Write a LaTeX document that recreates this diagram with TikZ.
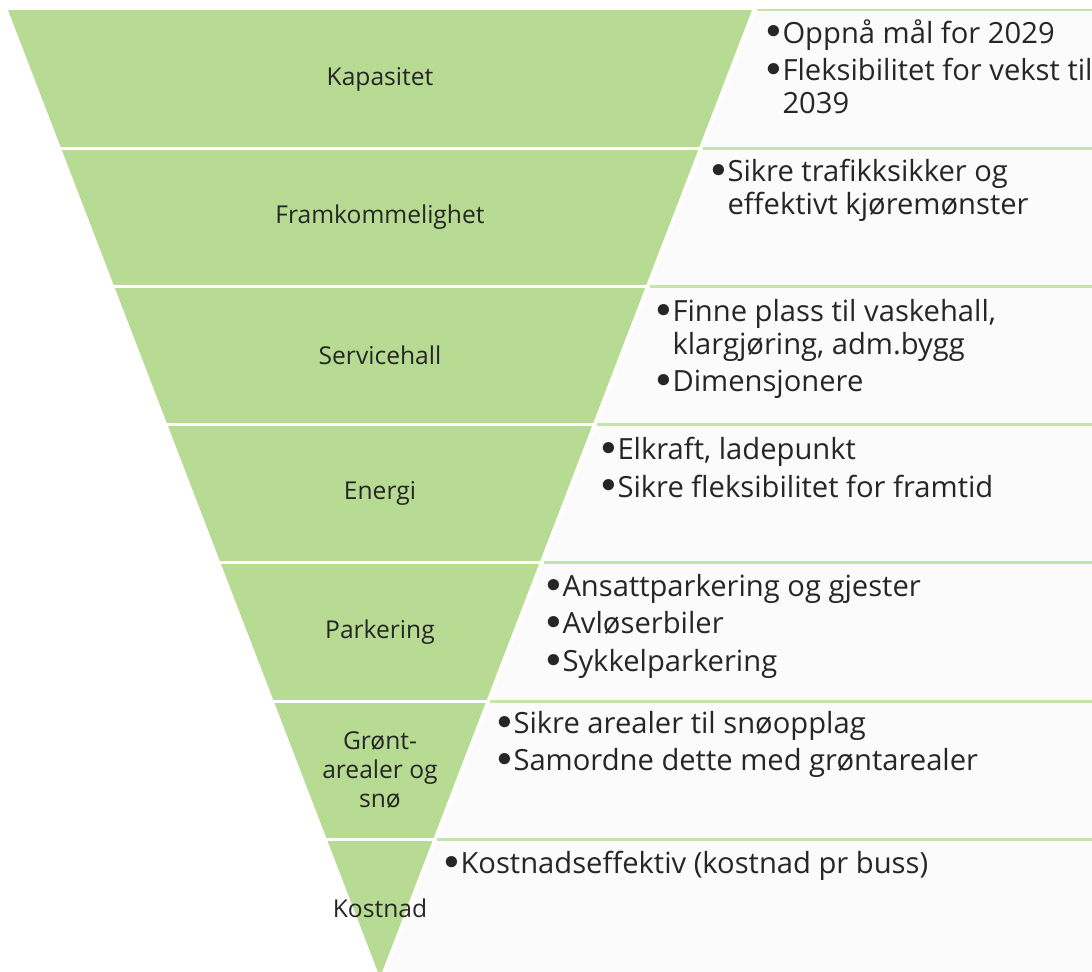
\documentclass[tikz,border=0pt]{standalone}
\usepackage{fontspec}
\setmainfont{Open Sans}
\newfontfamily\bulfont{DejaVu Sans}
\usetikzlibrary{calc}
\definecolor{pyrgreen}{RGB}{183,219,146}
\definecolor{boxfill}{RGB}{251,251,251}
\definecolor{boxline}{RGB}{197,228,170}
\tikzset{
    band/.style={fill=pyrgreen},
    sepline/.style={draw=white, line width=1.7pt},
    textbox/.style={fill=boxfill},
    topline/.style={draw=boxline, line width=1.7pt},
    level/.style={font=\fontsize{14}{16.5}\selectfont, align=center, text=black!85},
    items/.style={font=\fontsize{16.6}{18.7}\selectfont, anchor=north west, align=left,
        inner sep=0pt, text=black!85, execute at begin node=\strut}
}
\newcommand{\bul}{\raisebox{-1.6pt}{\bulfont\fontsize{22}{18.7}\selectfont•}\kern-1.5pt}
\newcommand{\gap}{\\[2.6pt]}

\begin{document}
\begin{tikzpicture}[x=0.02cm,y=-0.02cm]
\useasboundingbox (0,0) rectangle (1092,971);
\clip (0,0) rectangle (1092,971);

% Text boxes to the right
\foreach \i in {0,...,6}{
    \pgfmathsetmacro\ytop{10+138.2*\i}
    \pgfmathsetmacro\ybot{\ytop+138.2}
    \pgfmathsetmacro\xtop{380+0.3851*(977.4-\ytop)+4}
    \pgfmathsetmacro\xbot{380+0.3851*(977.4-\ybot)+4}
    \fill[textbox] (\xtop,\ytop) -- (1100,\ytop) -- (1100,\ybot) -- (\xbot,\ybot) -- cycle;
    \draw[topline] (\xtop,\ytop) -- (1100,\ytop);
}

% Pyramid
\fill[band] (8,10) -- (752,10) -- (380,977.4) -- cycle;
\foreach \i in {1,...,6}{
    \draw[sepline] (0,{10+138.2*\i}) -- ({380+0.3851*(977.4-10-138.2*\i)+2},{10+138.2*\i});
}

% Levels
\foreach \lbl [count=\i] in {Kapasitet, Framkommelighet, Servicehall, Energi,
    Parkering, {Grønt-\\arealer og\\snø}, Kostnad}{
    \node[level] (lvl\i) at (380,{79+138.2*(\i-1)}) {\lbl};
}

% Bullet points
\node[items] (txt1) at (762,19) {\bul Oppnå mål for 2029\gap
    \bul Fleksibilitet for vekst til\\\phantom{\bul}2039};
\node[items] (txt2) at (707,159) {\bul Sikre trafikksikker og\\\phantom{\bul}effektivt kjøremønster};
\node[items] (txt3) at (652,299) {\bul Finne plass til vaskehall,\\\phantom{\bul}klargjøring, adm.bygg\gap
    \bul Dimensjonere};
\node[items] (txt4) at (597,437) {\bul Elkraft, ladepunkt\gap
    \bul Sikre fleksibilitet for framtid};
\node[items] (txt5) at (542,574) {\bul Ansattparkering og gjester\gap
    \bul Avløserbiler\gap
    \bul Sykkelparkering};
\node[items] (txt6) at (493,711) {\bul Sikre arealer til snøopplag\gap
    \bul Samordne dette med grøntarealer};
\node[items] (txt7) at (440,850) {\bul Kostnadseffektiv (kostnad pr buss)};
\end{tikzpicture}
\end{document}
